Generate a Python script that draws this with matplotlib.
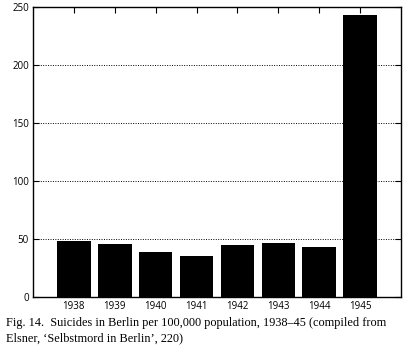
import matplotlib
matplotlib.use("Agg")
import matplotlib.pyplot as plt

years = ["1938", "1939", "1940", "1941", "1942", "1943", "1944", "1945"]
rates = [48.5, 45.8, 39.0, 35.5, 45.0, 46.5, 43.2, 243.0]
yticks = [0, 50, 100, 150, 200, 250]

fig = plt.figure(figsize=(4.05, 3.51), dpi=100)
ax = fig.add_axes([33/405, 1-297/351, (401-33)/405, (297-7)/351])
pos = list(range(1, len(years)+1))
ax.bar(pos, rates, width=0.82, color="black", zorder=3)
ax.set_xlim(0, 9)
ax.set_ylim(0, 250)
ax.set_yticks(yticks)
ax.set_yticklabels([str(v) for v in yticks], fontsize=7, family="Open Sans")
ax.set_xticks(pos)
ax.set_xticklabels(years, fontsize=7, family="Open Sans")
for v in yticks[1:-1]:
    ax.axhline(v, color="black", linestyle=(0, (1, 1.5)), linewidth=0.7, zorder=1)
ax.tick_params(direction="in", top=True, right=True, length=4, width=0.8, pad=3)
for s in ax.spines.values():
    s.set_linewidth(1.0)

fig.text(6/405, 1-323/351, "Fig. 14.  Suicides in Berlin per 100,000 population, 1938\u201345 (compiled from",
         fontsize=8.8, family="Liberation Serif", va="center", ha="left")
fig.text(6/405, 1-338/351, "Elsner, \u2018Selbstmord in Berlin\u2019, 220)",
         fontsize=8.8, family="Liberation Serif", va="center", ha="left")
fig.savefig("out.png", dpi=100)
